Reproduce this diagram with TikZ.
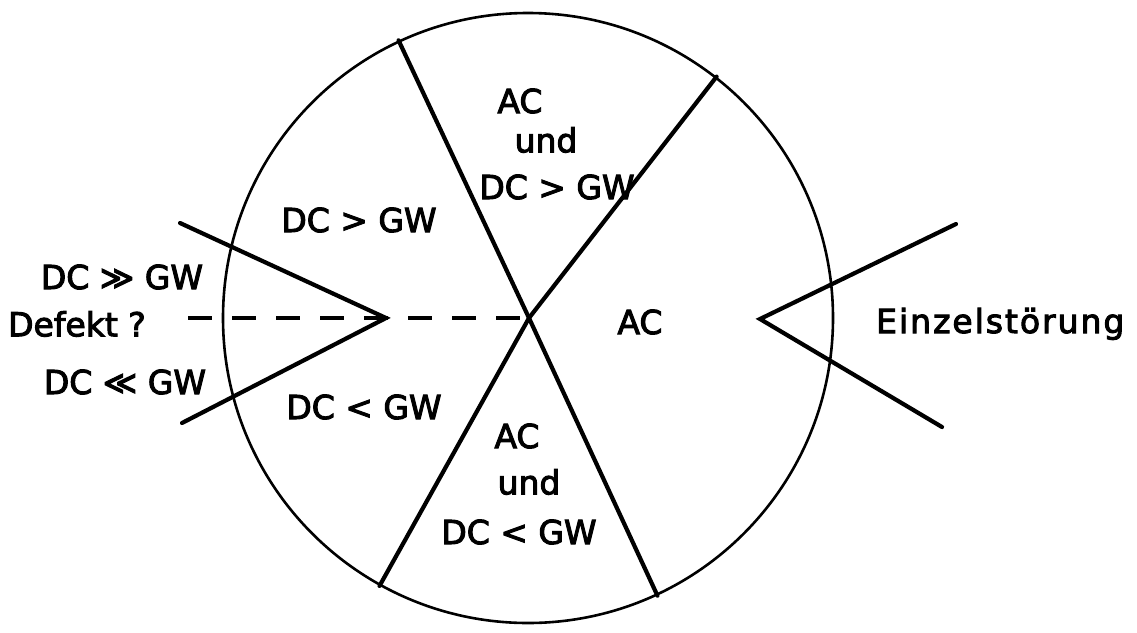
\documentclass[tikz,border=0pt]{standalone}
\usepackage{fontspec}
\setmainfont{DejaVu Sans}[FakeBold=3]
\begin{document}
\begin{tikzpicture}[x=1pt,y=-1pt,
  lbl/.style={font=\fontsize{33}{40}\selectfont, inner sep=0pt},
  rim/.style={line width=2.6pt},
  spoke/.style={line width=4.2pt, line cap=round},
  wedge/.style={line width=4.2pt, line cap=round},
  dashline/.style={line width=4.5pt, dash pattern=on 24pt off 20pt}]
\useasboundingbox (0,0) rectangle (1137,632);
% circle
\node[circle, draw, rim, minimum size=610pt, inner sep=0pt] (c) at (528,318) {};
\coordinate (O) at (529,318);
\coordinate (A) at (c.115.2);
\coordinate (B) at (c.52.1);
\coordinate (C) at (c.241.3);
\coordinate (D) at (c.295.6);
\draw[spoke] (A) -- (O) -- (D);
\draw[spoke] (B) -- (O) -- (C);
% left wedge and dashed line
\coordinate (LA) at (386,318);
\coordinate (LU) at (180,223);
\coordinate (LL) at (182,423);
\coordinate (DS) at (188,318);
\draw[wedge] (LU) -- (LA) -- (LL);
\draw[dashline] (DS) -- (O);
% right wedge
\coordinate (RA) at (760,319);
\coordinate (RU) at (956,224);
\coordinate (RL) at (942,427);
\draw[wedge] (RU) -- (RA) -- (RL);
% labels in sectors
\node[lbl] (t1) at (520,101) {AC};
\node[lbl] (t2) at (546,140) {und};
\node[lbl] (t3) at (557,187) {DC > GW};
\node[lbl] (l1) at (359,220) {DC > GW};
\node[lbl] (l2) at (364,407) {DC < GW};
\node[lbl] (b1) at (517,436) {AC};
\node[lbl] (b2) at (529,482) {und};
\node[lbl] (b3) at (519,532) {DC < GW};
\node[lbl] (r1) at (640,322) {AC};
% outside labels
\node[lbl] (o1) at (122,277) {DC ≫ GW};
\node[lbl] (o2) at (77,324) {Defekt ?};
\node[lbl] (o3) at (125,382) {DC ≪ GW};
\node[lbl, anchor=base west, font=\fontsize{33}{40}\selectfont\addfontfeature{LetterSpace=6}] (e1) at (876,333) {Einzelstörung};
\end{tikzpicture}
\end{document}
